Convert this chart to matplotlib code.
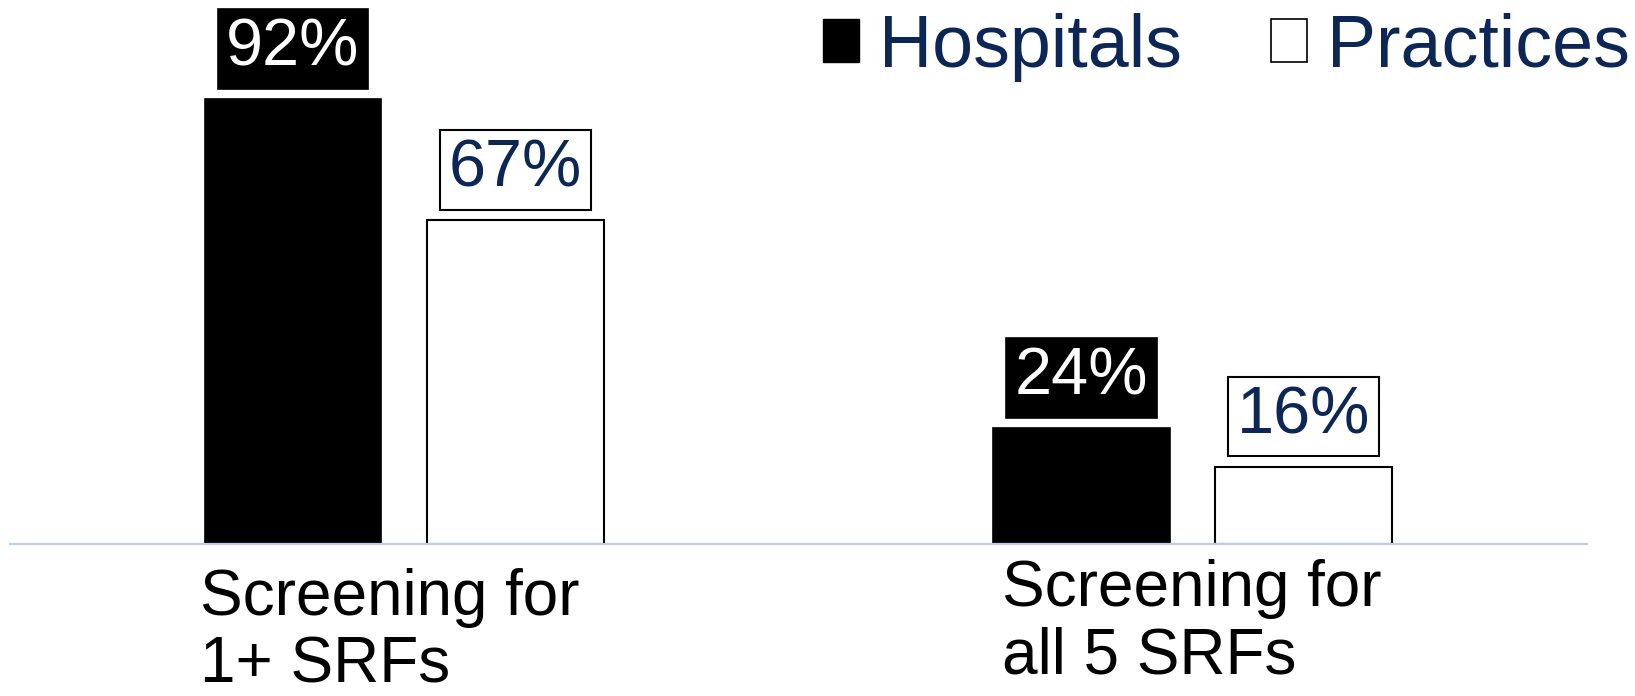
import numpy as np
import matplotlib.pyplot as plt
from matplotlib.patches import Patch

plt.rcParams['font.family'] = ['Liberation Sans', 'DejaVu Sans']

categories = ["Screening for\n1+ SRFs", "Screening for\nall 5 SRFs"]
series = ["Hospitals", "Practices"]
hospitals = [92, 24]
practices = [67, 16]
value_labels_h = ["92%", "24%"]
value_labels_p = ["67%", "16%"]

NAVY = "#0c2656"

fig = plt.figure(figsize=(16.35, 6.96), dpi=100)
ax = fig.add_axes([0.006, 1 - 544 / 696, 0.9645, 544 / 696])

x = np.arange(len(categories))
w = 0.224
off = 0.141

ax.bar(x - off, hospitals, w, color="black", edgecolor="black", linewidth=1.2, zorder=2)
ax.bar(x + off, practices, w, color="white", edgecolor="black", linewidth=1.5, zorder=2)

for i in range(len(categories)):
    ax.text(x[i] - off, hospitals[i] + 10.3, value_labels_h[i], ha="center", va="center",
            fontsize=48, color="white",
            bbox=dict(boxstyle="square,pad=0.13", fc="black", ec="black", lw=1.2))
    ax.text(x[i] + off, practices[i] + 10.3, value_labels_p[i], ha="center", va="center",
            fontsize=48, color=NAVY,
            bbox=dict(boxstyle="square,pad=0.13", fc="white", ec="black", lw=1.5))

# category labels under the baseline, left aligned
label_x = [-0.259, -0.242]
label_y = [-0.045, -0.028]
for i, c in enumerate(categories):
    ax.text(x[i] + label_x[i], label_y[i], c, transform=ax.get_xaxis_transform(),
            ha="left", va="top", fontsize=46, color="black", linespacing=1.15)

ax.set_xlim(-0.5, 1.5)
ax.set_ylim(0, 112.4)
for s in ["top", "right", "left"]:
    ax.spines[s].set_visible(False)
ax.spines["bottom"].set_color("#b9d0ec")
ax.spines["bottom"].set_linewidth(1.6)
ax.set_xticks([])
ax.set_yticks([])

handles = [Patch(fc="black", ec="black"), Patch(fc="white", ec="black", lw=1.2)]
leg = fig.legend(handles, series, loc="upper right", bbox_to_anchor=(0.997, 0.982),
                 ncol=2, frameon=False, fontsize=53, labelcolor=NAVY,
                 handlelength=0.5, handleheight=0.53, handletextpad=0.27,
                 columnspacing=1.2, borderpad=0, borderaxespad=0)

fig.savefig("out.png", dpi=100)
